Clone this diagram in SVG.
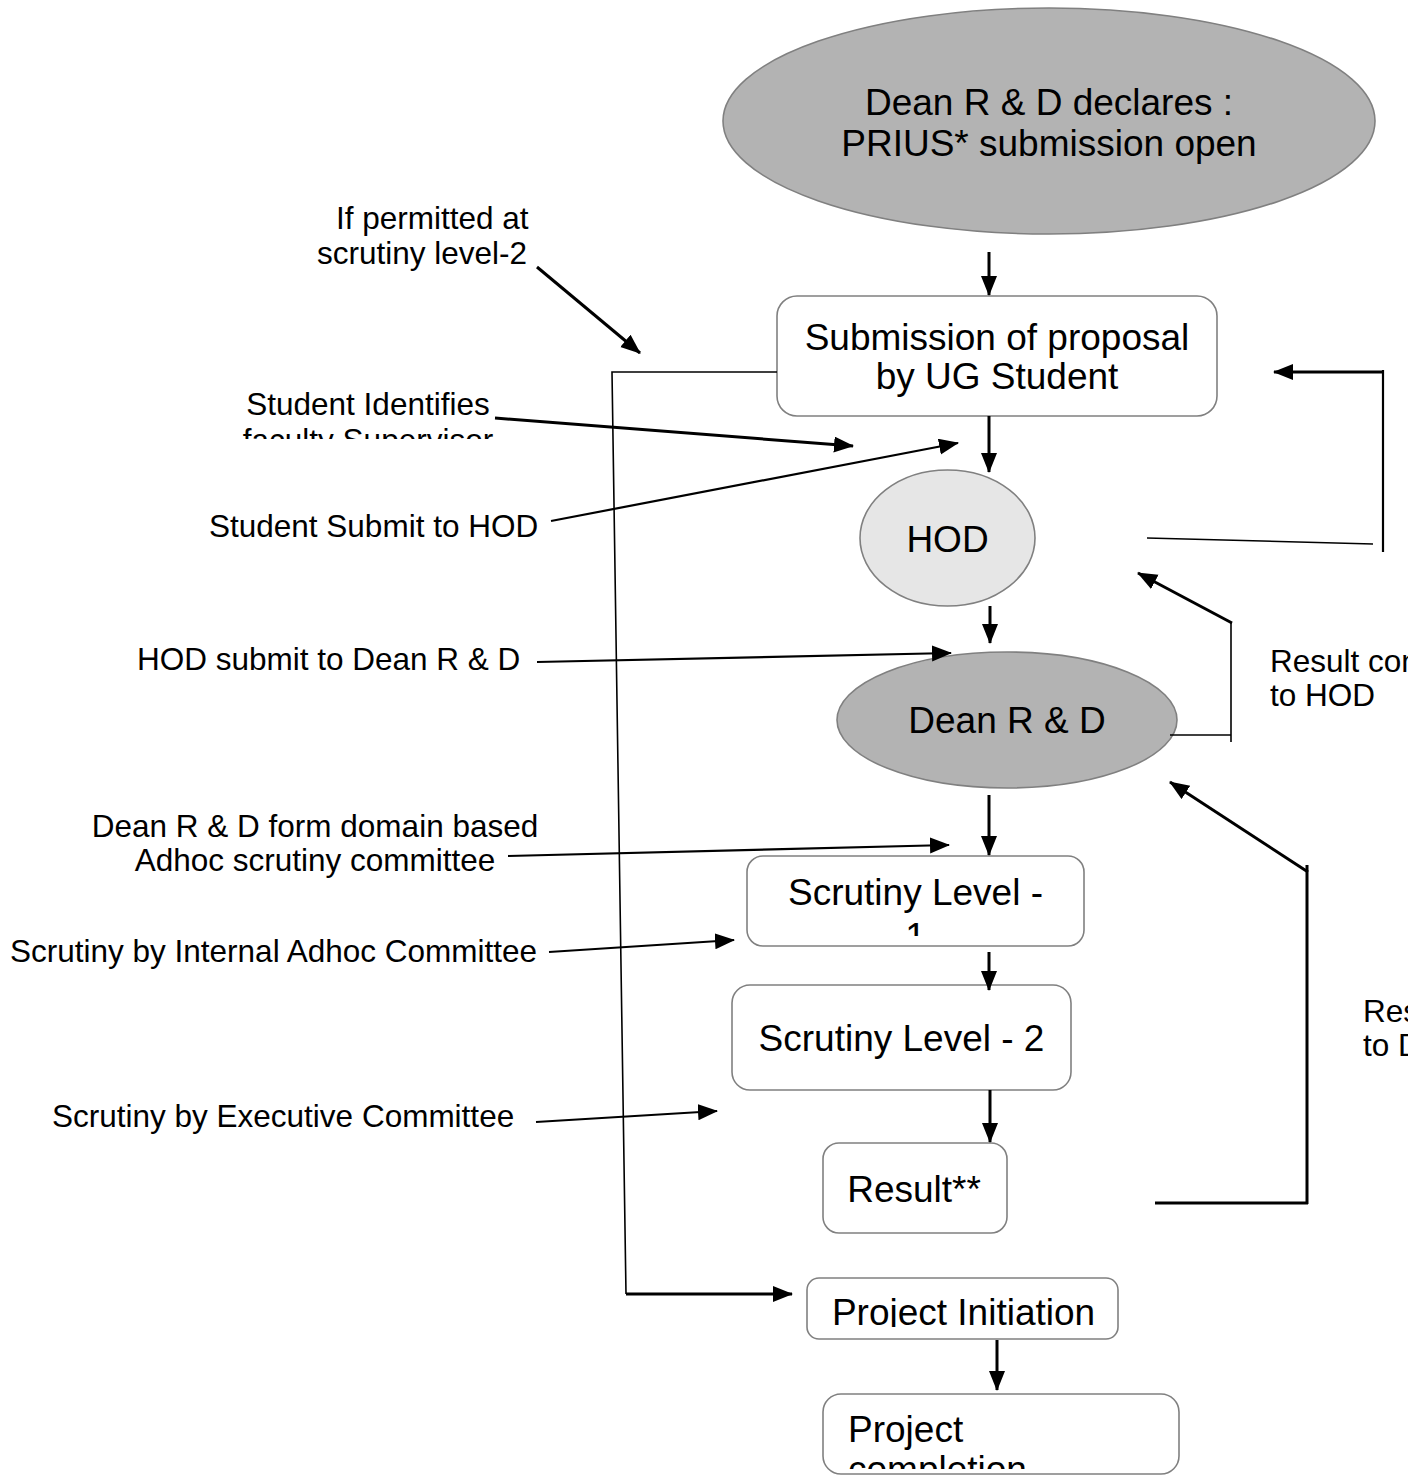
<svg xmlns="http://www.w3.org/2000/svg" width="1408" height="1479" viewBox="0 0 1408 1479">
<style>
.node{stroke:#808080;stroke-width:1.6}
.dark{fill:#b3b3b3}
.light{fill:#e6e6e6}
.box{fill:#ffffff}
.nt{font-family:"Liberation Sans",Arial,sans-serif;font-size:37px;fill:#000;text-anchor:middle}
.lt{font-family:"Liberation Sans",Arial,sans-serif;font-size:31.5px;fill:#000}
.thick{stroke:#000;stroke-width:3;fill:none}
.thin{stroke:#000;stroke-width:1.6;fill:none}
.mid{stroke:#000;stroke-width:2.2;fill:none}
</style>
<defs>
<marker id="ah" markerUnits="userSpaceOnUse" markerWidth="22" markerHeight="18" refX="19" refY="8" orient="auto">
<path d="M0,0 L20,8 L0,16 z" fill="#000"/>
</marker>
<clipPath id="c1"><rect x="0" y="0" width="1408" height="439"/></clipPath>
<clipPath id="c2"><rect x="0" y="0" width="1408" height="936"/></clipPath>
<clipPath id="c3"><rect x="0" y="0" width="1408" height="1327"/></clipPath>
<clipPath id="c4"><rect x="0" y="0" width="1408" height="1469"/></clipPath>
</defs>
<rect width="1408" height="1479" fill="#ffffff"/>

<g id="n-declare">
<ellipse class="node dark" cx="1049" cy="121" rx="326" ry="113"/>
<text class="nt" x="1049" y="115">Dean R &amp; D declares :</text>
<text class="nt" x="1049" y="156">PRIUS* submission open</text>
</g>
<g id="n-submission">
<rect class="node box" x="777" y="296" width="440" height="120" rx="20"/>
<text class="nt" x="997" y="350">Submission of proposal</text>
<text class="nt" x="997" y="389">by UG Student</text>
</g>
<g id="n-hod">
<ellipse class="node light" cx="947.5" cy="538" rx="87.5" ry="68"/>
<text class="nt" x="947.5" y="552">HOD</text>
</g>
<g id="n-dean">
<ellipse class="node dark" cx="1007" cy="720" rx="170" ry="68"/>
<text class="nt" x="1007" y="733">Dean R &amp; D</text>
</g>
<g id="n-scr1">
<rect class="node box" x="747" y="856" width="337" height="90" rx="16"/>
<text class="nt" x="915.5" y="905">Scrutiny Level -</text>
<text class="nt" x="915.5" y="949" clip-path="url(#c2)">1</text>
</g>
<g id="n-scr2">
<rect class="node box" x="732" y="985" width="339" height="105" rx="18"/>
<text class="nt" x="901.5" y="1051">Scrutiny Level - 2</text>
</g>
<g id="n-result">
<rect class="node box" x="823" y="1143" width="184" height="90" rx="16"/>
<text class="nt" x="914" y="1202">Result**</text>
</g>
<g id="n-init">
<rect class="node box" x="807" y="1278" width="311" height="61" rx="12"/>
<text class="nt" x="963.5" y="1325" clip-path="url(#c3)">Project Initiation</text>
</g>
<g id="n-complete">
<rect class="node box" x="823" y="1394" width="356" height="80" rx="18"/>
<text class="nt" x="848" y="1442" style="text-anchor:start">Project</text>
<text class="nt" x="848" y="1482" style="text-anchor:start" clip-path="url(#c4)">completion</text>
</g>

<g id="labels">
<text class="lt" x="336" y="229">If permitted at</text>
<text class="lt" x="317" y="264">scrutiny level-2</text>
<text class="lt" x="368" y="415" text-anchor="middle">Student Identifies</text>
<text class="lt" x="368" y="451" text-anchor="middle" clip-path="url(#c1)">faculty Supervisor</text>
<text class="lt" x="209" y="537">Student Submit to HOD</text>
<text class="lt" x="137" y="670">HOD submit to Dean R &amp; D</text>
<text class="lt" x="315" y="837" text-anchor="middle">Dean R &amp; D form domain based</text>
<text class="lt" x="315" y="871" text-anchor="middle">Adhoc scrutiny committee</text>
<text class="lt" x="10" y="962">Scrutiny by Internal Adhoc Committee</text>
<text class="lt" x="52" y="1127">Scrutiny by Executive Committee</text>
<text class="lt" x="1270" y="672">Result con</text>
<text class="lt" x="1270" y="706">to HOD</text>
<text class="lt" x="1363" y="1022">Res</text>
<text class="lt" x="1363" y="1056">to D</text>
</g>

<g id="connectors">
<line class="thick" x1="989" y1="252" x2="989" y2="295" marker-end="url(#ah)"/>
<line class="thick" x1="989" y1="416" x2="989" y2="472" marker-end="url(#ah)"/>
<line class="thick" x1="990" y1="606" x2="990" y2="643" marker-end="url(#ah)"/>
<line class="thick" x1="989" y1="795" x2="989" y2="855" marker-end="url(#ah)"/>
<line class="thick" x1="989" y1="952" x2="989" y2="990" marker-end="url(#ah)"/>
<line class="thick" x1="990" y1="1090" x2="990" y2="1142" marker-end="url(#ah)"/>
<line class="thick" x1="997" y1="1340" x2="997" y2="1390" marker-end="url(#ah)"/>

<line class="thick" x1="537" y1="267" x2="640" y2="353" marker-end="url(#ah)"/>
<polyline class="thin" points="777,372 612,372 626,1294"/>
<line class="thick" x1="626" y1="1294" x2="792" y2="1294" marker-end="url(#ah)"/>

<line class="thick" x1="495" y1="418" x2="853" y2="446" marker-end="url(#ah)"/>
<line class="mid" x1="551" y1="521" x2="958" y2="443" marker-end="url(#ah)"/>
<line class="mid" x1="537" y1="662" x2="951" y2="653" marker-end="url(#ah)"/>
<line class="mid" x1="508" y1="856" x2="949" y2="845" marker-end="url(#ah)"/>
<line class="mid" x1="549" y1="952" x2="734" y2="940" marker-end="url(#ah)"/>
<line class="mid" x1="536" y1="1122" x2="717" y2="1111" marker-end="url(#ah)"/>

<line class="thin" x1="1147" y1="538" x2="1373" y2="544"/>
<line class="mid" x1="1383" y1="370" x2="1383" y2="552"/>
<line class="thick" x1="1383" y1="372" x2="1274" y2="372" marker-end="url(#ah)"/>

<line class="thin" x1="1170" y1="735" x2="1231" y2="735"/>
<line class="thin" x1="1231" y1="623" x2="1231" y2="742"/>
<line class="thick" x1="1232" y1="623" x2="1138" y2="573" marker-end="url(#ah)"/>

<line class="thick" x1="1155" y1="1203" x2="1308" y2="1203"/>
<line class="thick" x1="1307" y1="865" x2="1307" y2="1204"/>
<line class="thick" x1="1308" y1="872" x2="1170" y2="782" marker-end="url(#ah)"/>
</g>
</svg>
